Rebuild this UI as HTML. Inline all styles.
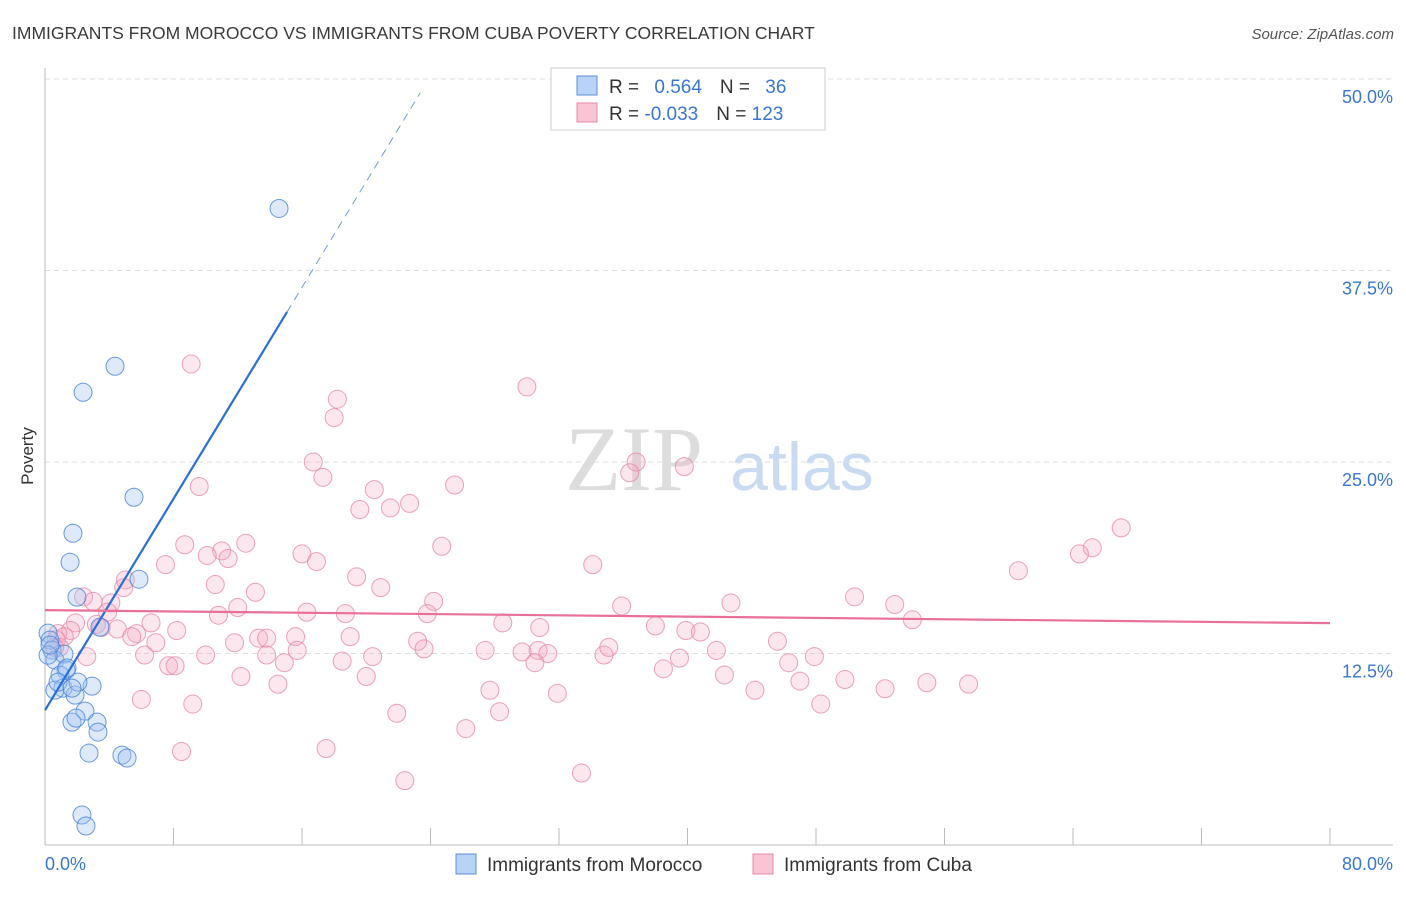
<!DOCTYPE html>
<html><head><meta charset="utf-8"><style>
body{margin:0;background:#fff;font-family:"Liberation Sans",sans-serif;}
</style></head><body>
<svg id="chart" width="1406" height="892" xmlns="http://www.w3.org/2000/svg" font-family="Liberation Sans, sans-serif">
<text x="12" y="39" font-size="17.5" fill="#3a3a3a">IMMIGRANTS FROM MOROCCO VS IMMIGRANTS FROM CUBA POVERTY CORRELATION CHART</text>
<text x="1394" y="39" font-size="15" fill="#555" text-anchor="end" font-style="italic">Source: ZipAtlas.com</text>
<g>
<text x="634" y="490" font-size="92" fill="#ddd" text-anchor="middle" font-family="Liberation Serif, serif">ZIP</text>
<text x="802" y="490" font-size="68" fill="#c9dbf3" text-anchor="middle">atlas</text>
</g>
<g id="grid"></g>
<g id="axes"></g>
<g id="pts"></g>
<g id="lines"></g>
<text transform="translate(33,456) rotate(-90)" font-size="17" fill="#333" text-anchor="middle">Poverty</text>
<g>
<rect x="551" y="68" width="274" height="62" fill="#fff" stroke="#ccc"/>
<rect x="577" y="76" width="20" height="19" fill="#b8d3f5" stroke="#5a8fd8"/>
<rect x="577" y="103" width="20" height="19" fill="#f9c4d4" stroke="#e88aa8"/>
<text x="609" y="93" font-size="19" fill="#333">R = <tspan fill="#3a76d0" dx="10">0.564</tspan><tspan fill="#333" dx="18">N = </tspan><tspan fill="#3a76d0" dx="10">36</tspan></text>
<text x="609" y="120" font-size="19" fill="#333">R = <tspan fill="#3a76d0">-0.033</tspan><tspan fill="#333" dx="18">N = </tspan><tspan fill="#3a76d0">123</tspan></text>
</g>
<g>
<rect x="456" y="854" width="20" height="20" fill="#b8d3f5" stroke="#5a8fd8"/>
<text x="487" y="871" font-size="19" fill="#333">Immigrants from Morocco</text>
<rect x="753" y="854" width="20" height="20" fill="#f9c4d4" stroke="#e88aa8"/>
<text x="784" y="871" font-size="19" fill="#333">Immigrants from Cuba</text>
</g>
</svg>
<script>
const yTicks=[12.5,25,37.5,50];
const yTickLabels=["12.5%","25.0%","37.5%","50.0%"];
const xTicks=[0,8,16,24,32,40,48,56,64,72,80];
const xEndLabels=["0.0%","80.0%"];
const moroccoX=[14.57,4.36,2.37,5.54,1.74,1.56,5.85,1.99,3.42,0.19,0.31,0.44,0.62,1.18,1.31,0.93,1.12,0.62,1.87,2.93,2.05,2.49,3.24,1.68,1.93,3.30,2.74,4.79,5.11,2.30,2.55,0.19,0.31,1.37,0.81,1.68];
const moroccoY=[41.55,31.25,29.55,22.7,20.35,18.46,17.35,16.18,14.22,13.83,13.37,12.72,12.07,12.46,11.42,11.09,10.24,10.11,9.78,10.37,10.63,8.74,8.02,8.02,8.28,7.37,6.0,5.87,5.68,1.96,1.24,12.39,13.05,11.55,10.63,10.24];
const cubaX=[9.1,30.0,18.2,18.0,16.7,36.8,36.4,39.8,17.3,25.5,9.6,20.5,22.7,19.6,21.5,67.0,65.2,64.4,24.7,8.7,12.5,11.0,10.1,11.4,16.0,16.9,34.1,60.6,7.5,19.4,5.0,4.9,10.6,20.9,13.1,2.4,3.0,4.1,3.9,24.2,50.4,52.9,35.9,42.7,12.0,16.3,10.8,18.7,23.8,6.6,1.9,3.2,54.0,28.5,30.8,38.0,39.9,40.8,3.5,4.5,1.6,0.8,1.2,0.7,5.7,8.2,5.4,6.9,11.8,13.3,13.8,15.6,19.0,23.2,45.6,0.9,0.6,6.2,2.6,10.0,13.8,15.7,20.4,23.6,27.4,29.7,30.7,31.3,34.8,35.1,41.8,47.9,7.7,8.1,14.9,18.5,30.5,39.5,38.5,46.3,12.2,20.0,42.3,47.0,49.8,14.5,52.3,54.9,57.5,27.7,31.9,44.2,6.0,9.2,48.3,28.3,21.9,26.2,17.5,8.5,33.4,22.4];
const cubaY=[31.4,29.9,29.1,27.9,25.0,25.0,24.3,24.7,24.0,23.5,23.4,23.2,22.3,21.9,22.0,20.7,19.4,19.0,19.5,19.6,19.7,19.2,18.9,18.7,19.0,18.5,18.3,17.9,18.3,17.5,17.3,16.8,17.0,16.8,16.5,16.2,15.9,15.8,15.2,15.9,16.2,15.7,15.6,15.8,15.5,15.2,15.0,15.1,15.1,14.5,14.5,14.4,14.7,14.5,14.2,14.3,14.0,13.9,14.2,14.1,14.0,13.8,13.6,13.4,13.8,14.0,13.6,13.2,13.2,13.5,13.5,13.6,13.6,13.3,13.3,12.9,12.9,12.4,12.3,12.4,12.4,12.7,12.3,12.8,12.7,12.6,12.7,12.5,12.4,12.9,12.7,12.3,11.7,11.7,11.9,12.0,11.9,12.2,11.5,11.9,11.0,11.0,11.1,10.7,10.8,10.5,10.2,10.6,10.5,10.1,9.9,10.1,9.5,9.2,9.2,8.7,8.6,7.6,6.3,6.1,4.7,4.2];
const moroccoTrend=[8.8,1.725];
const moroccoSolidEnd=15.07, moroccoDashEnd=23.35;
const cubaTrend=[15.33,-0.0106];

const NS="http://www.w3.org/2000/svg";
const X0=45,X1=1330,Y0=845,Y1=79;
function sx(v){return X0+(v-0)/80*(X1-X0);}
function sy(v){return Y0-(v/50)*(Y0-Y1);}
function mk(tag,attrs,parent){const e=document.createElementNS(NS,tag);for(const k in attrs)e.setAttribute(k,attrs[k]);parent.appendChild(e);return e;}
const grid=document.getElementById('grid'),axes=document.getElementById('axes'),pts=document.getElementById('pts'),lines=document.getElementById('lines');
yTicks.forEach((t,i)=>{
 const g=mk('line',{x1:45,x2:1393,y1:sy(t),y2:sy(t),stroke:'#ddd','stroke-dasharray':'5,4'},grid);
 
 
 const tx=mk('text',{x:1393,y:sy(t)+24,'font-size':18,fill:'#3a76d0','text-anchor':'end'},axes);
 tx.textContent=yTickLabels[i];
 
 
});
const ya=mk('line',{x1:45,x2:45,y1:68,y2:845,stroke:'#bbb'},axes);


const xa=mk('line',{x1:45,x2:1393,y1:845,y2:845,stroke:'#bbb'},axes);


xTicks.forEach(t=>{
 const l=mk('line',{x1:sx(t),x2:sx(t),y1:828,y2:845,stroke:'#bbb'},axes);
 
 
});
const xl0=mk('text',{x:45,y:870,'font-size':18,fill:'#3a76d0'},axes);xl0.textContent=xEndLabels[0];


const xl1=mk('text',{x:1393,y:870,'font-size':18,fill:'#3a76d0','text-anchor':'end'},axes);xl1.textContent=xEndLabels[1];


cubaX.forEach((x,i)=>{
 const c=mk('circle',{cx:sx(x),cy:sy(cubaY[i]),r:9,fill:'rgba(245,170,195,0.28)',stroke:'rgba(230,130,165,0.75)','stroke-width':1},pts);
 
 
});
moroccoX.forEach((x,i)=>{
 const c=mk('circle',{cx:sx(x),cy:sy(moroccoY[i]),r:9,fill:'rgba(160,195,240,0.35)',stroke:'rgba(70,130,215,0.8)','stroke-width':1},pts);
 
 
});
const my=v=>moroccoTrend[0]+moroccoTrend[1]*v;
const bl=mk('line',{x1:sx(0),y1:sy(my(0)),x2:sx(moroccoSolidEnd),y2:sy(my(moroccoSolidEnd)),stroke:'#2a6fd6','stroke-width':2.2},lines);


const bd=mk('line',{x1:sx(moroccoSolidEnd),y1:sy(my(moroccoSolidEnd)),x2:sx(moroccoDashEnd),y2:sy(my(moroccoDashEnd)),stroke:'#6a9be0','stroke-width':1,'stroke-dasharray':'8,6'},lines);


const cy=v=>cubaTrend[0]+cubaTrend[1]*v;
const pl=mk('line',{x1:sx(0),y1:sy(cy(0)),x2:sx(80),y2:sy(cy(80)),stroke:'#e8709a','stroke-width':2.2},lines);


</script>
</body></html>
